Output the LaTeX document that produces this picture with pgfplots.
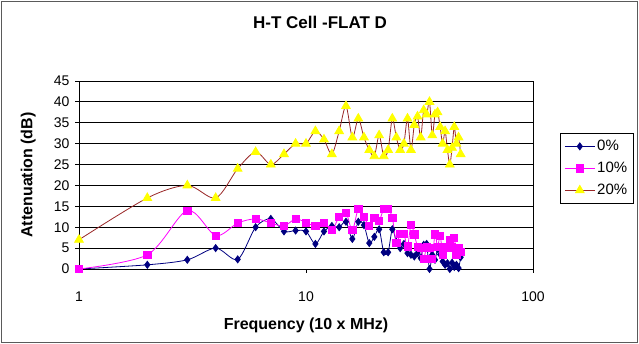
\documentclass[border=0pt]{standalone}
\usepackage{fontspec}
\setmainfont{Liberation Sans}
\usepackage{pgfplots}
\pgfplotsset{compat=1.18}
\definecolor{navyS}{RGB}{0,0,128}
\definecolor{magS}{RGB}{255,0,255}
\definecolor{brownS}{RGB}{153,38,38}
\definecolor{yelS}{RGB}{255,255,0}
\definecolor{frameS}{RGB}{90,90,90}
\begin{document}
\begin{tikzpicture}[x=1pt,y=1pt]
\path (0,0) rectangle (639,344);
\draw[line width=1.5pt, frameS] (1.5,1.5) rectangle (637.5,342.5);
\begin{axis}[
  at={(79pt,75pt)}, anchor=south west,
  scale only axis, width=454pt, height=188pt,
  xmode=log, xmin=1, xmax=100, ymin=0, ymax=45,
  ytick={0,5,...,45}, xtick={1,10,100},
  xticklabels={1,10,100},
  minor xtick={}, 
  log basis x=10,
  ymajorgrids, major grid style={black, line width=0.8pt},
  axis line style={black, line width=0.8pt},
  tick style={black, line width=0.8pt},
  tick align=outside, major tick length=4pt,
  xtick pos=bottom, ytick pos=left,
  /pgf/number format/assume math mode=true,
  ticklabel style={font=\fontsize{14}{16}\selectfont},
  xticklabel style={yshift=-15pt},
  yticklabel style={xshift=-2pt},
  title={H-T Cell -FLAT D},
  title style={at={(axis description cs:0.531,1.282)}, anchor=center, font=\fontsize{17}{20}\selectfont\bfseries},
  xlabel={Frequency (10 x MHz)},
  xlabel style={at={(axis description cs:0.5,-0.298)}, anchor=center, font=\fontsize{16}{19}\selectfont\bfseries},
  ylabel={Attenuation (dB)},
  ylabel style={at={(axis description cs:-0.112,0.5)}, anchor=center, rotate=0, font=\fontsize{16}{19}\selectfont\bfseries},
  legend style={at={(axis description cs:1.0595,0.7234)}, anchor=north west,
    draw=black, line width=0.8pt, font=\fontsize{15}{17}\selectfont,
    row sep=6pt, inner xsep=4pt, inner ysep=5pt},
  legend cell align=left,
  legend image code/.code={\draw[#1, mark repeat=2, mark phase=2] plot coordinates {(0pt,0pt) (15pt,0pt) (30pt,0pt)};},
]
\addplot[navyS, line width=0.8pt, smooth, tension=0.5, mark=diamond*, mark size=3.5pt, mark options={fill=navyS, draw=navyS}] coordinates {
(1,0) (2,1) (3,2.2) (4,5) (5,2.3) (6,10) (7,12) (8,9) (9,9.2) (10,9)
(11,6) (12,9) (13,10.3) (14,10) (15,11.3) (16,7.2) (17,11.3) (18,10.5) (19,6.2) (20,7.7)
(21,9.5) (22,4) (23,4) (24,9.5) (25,6.5) (26,5) (27,6) (28,3.8) (29,3.4) (30,3)
(31,3.8) (32,2.6) (33,5.8) (34,6) (35,0) (36,3.4) (37,2.2) (38,4.8) (39,3.5) (40,1.8)
(41,1) (42,1.4) (43,0) (44,1.5) (45,0.5) (46,1) (47,0.2) (48,2.8)
};
\addlegendentry{0\%}
\addplot[magS, line width=0.8pt, smooth, tension=0.5, mark=square*, mark size=3.6pt, mark options={fill=magS, draw=magS}] coordinates {
(1,0) (2,3.4) (3,14) (4,8) (5,11) (6,12) (7,11) (8,10.3) (9,12) (10,11.1)
(11,10.3) (12,11.1) (13,9.3) (14,12.5) (15,13.5) (16,9.3) (17,14.4) (18,12.5) (19,10.3) (20,12.2)
(21,11.5) (22,14.4) (23,14.4) (24,12.3) (25,6.3) (26,8.4) (27,8.4) (28,5.4) (29,10.6) (30,8.3)
(31,5.3) (32,5) (33,2.5) (34,5.3) (35,5) (36,2.5) (37,8.3) (38,5.3) (39,8) (40,3.5)
(41,5.3) (42,5) (43,7) (44,5.3) (45,7.5) (46,3.3) (47,5) (48,4)
};
\addlegendentry{10\%}
\addplot[brownS, line width=0.8pt, smooth, tension=0.5, mark=triangle*, mark size=5pt, mark options={fill=yelS, draw=yelS}] coordinates {
(1,7) (2,17) (3,20) (4,17) (5,24) (6,28) (7,25) (8,27.5) (9,30) (10,30)
(11,33) (12,31) (13,27.5) (14,33) (15,39) (16,31.5) (17,36) (18,31.5) (19,28.5) (20,27)
(21,32) (22,27) (23,28.5) (24,36) (25,31.5) (26,28.5) (27,30) (28,36) (29,28.5) (30,34.5)
(31,36.5) (32,31.5) (33,38) (34,37) (35,40) (36,32) (37,37) (38,37.5) (39,34) (40,30)
(41,33) (42,28.5) (43,25) (44,29) (45,34) (46,30) (47,31.5) (48,27.5)
};
\addlegendentry{20\%}
\end{axis}
\end{tikzpicture}
\end{document}
